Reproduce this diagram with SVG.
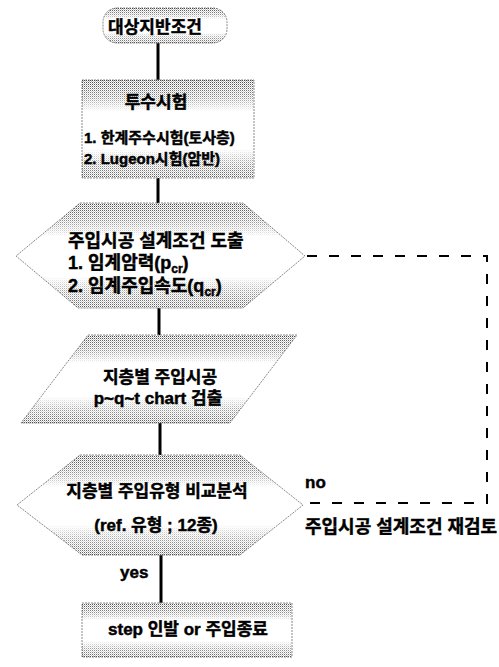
<svg xmlns="http://www.w3.org/2000/svg" width="499" height="667" viewBox="0 0 499 667">
<style>
.t{font-family:"Liberation Sans","Noto Sans CJK KR",sans-serif;font-weight:bold;fill:#000;stroke:#000;stroke-width:0.45}
.shape{fill:#fff;stroke:#888;stroke-width:1;stroke-dasharray:2 1}
.dot{fill:url(#dots);stroke:none}
.conn{stroke:#000;stroke-width:3;fill:none}
.dash{stroke:#000;stroke-width:2;fill:none;stroke-dasharray:10 12}
</style>
<defs>
<pattern id="dots" width="2" height="2" patternUnits="userSpaceOnUse"><rect width="1" height="1" fill="#444"/><rect x="1" y="1" width="1" height="1" fill="#bbb"/></pattern>
<linearGradient id="fg" x1="0" y1="0" x2="0" y2="1">
<stop offset="0" stop-color="#fff"/>
<stop offset="0.18" stop-color="#fff" stop-opacity="0.6"/>
<stop offset="0.32" stop-color="#fff" stop-opacity="0"/>
<stop offset="0.7" stop-color="#fff" stop-opacity="0"/>
<stop offset="0.84" stop-color="#fff" stop-opacity="0.5"/>
<stop offset="1" stop-color="#fff" stop-opacity="0.9"/>
</linearGradient>
<mask id="fade" maskContentUnits="objectBoundingBox"><rect width="1" height="1" fill="url(#fg)"/></mask>
</defs>
<g id="connectors">
<line class="conn" x1="158" y1="43" x2="158" y2="80"/>
<line class="conn" x1="158" y1="178" x2="158" y2="203"/>
<line class="conn" x1="159" y1="308" x2="159" y2="335"/>
<line class="conn" x1="160" y1="423" x2="160" y2="455"/>
<line class="conn" x1="161" y1="555" x2="161" y2="603"/>
<polyline class="dash" points="307,256 487,256 487,503 305,503"/>
<text class="t" x="305" y="488" font-size="17">no</text>
<text class="t" x="120" y="578" font-size="17">yes</text>
</g>
<g id="start">
<rect class="shape" x="103" y="8" width="124" height="35" rx="14"/>
<rect class="dot" x="103" y="8" width="124" height="35" rx="14" mask="url(#fade)"/>
<text class="t" x="155" y="33" font-size="17" text-anchor="middle">대상지반조건</text>
</g>
<g id="permeability-test">
<rect class="shape" x="82" y="80" width="172" height="98"/>
<rect class="dot" x="82" y="80" width="172" height="98" mask="url(#fade)"/>
<text class="t" x="156" y="108" font-size="17" text-anchor="middle">투수시험</text>
<text class="t" x="84" y="143" font-size="15">1. 한계주수시험(토사층)</text>
<text class="t" x="84" y="164" font-size="15">2. Lugeon시험(암반)</text>
</g>
<g id="design-conditions">
<polygon class="shape" points="80,203 243,203 305,256 243,308 78,308 16,256"/>
<polygon class="dot" points="80,203 243,203 305,256 243,308 78,308 16,256" mask="url(#fade)"/>
<text class="t" x="68" y="247" font-size="18">주입시공 설계조건 도출</text>
<text class="t" x="68" y="269" font-size="18">1. 임계암력(p<tspan font-size="12" dy="4">cr</tspan><tspan dy="-4">)</tspan></text>
<text class="t" x="68" y="292" font-size="18">2. 임계주입속도(q<tspan font-size="12" dy="4">cr</tspan><tspan dy="-4">)</tspan></text>
</g>
<g id="chart-detection">
<polygon class="shape" points="88,335 297,335 230,423 21,423"/>
<polygon class="dot" points="88,335 297,335 230,423 21,423" mask="url(#fade)"/>
<text class="t" x="160" y="383" font-size="17" text-anchor="middle">지층별 주입시공</text>
<text class="t" x="158" y="404" font-size="17" text-anchor="middle">p~q~t chart 검출</text>
</g>
<g id="comparison">
<polygon class="shape" points="80,455 240,455 303,505 240,555 82,555 17,505"/>
<polygon class="dot" points="80,455 240,455 303,505 240,555 82,555 17,505" mask="url(#fade)"/>
<text class="t" x="157" y="497" font-size="17" text-anchor="middle">지층별 주입유형 비교분석</text>
<text class="t" x="156" y="531" font-size="17" text-anchor="middle">(ref. 유형 ; 12종)</text>
</g>
<g id="review">
<text class="t" x="305" y="533" font-size="18">주입시공 설계조건 재검토</text>
</g>
<g id="end">
<rect class="shape" x="82" y="603" width="210" height="54"/>
<rect class="dot" x="82" y="603" width="210" height="54" mask="url(#fade)"/>
<text class="t" x="188" y="635" font-size="17" text-anchor="middle">step 인발 or 주입종료</text>
</g>
</svg>
